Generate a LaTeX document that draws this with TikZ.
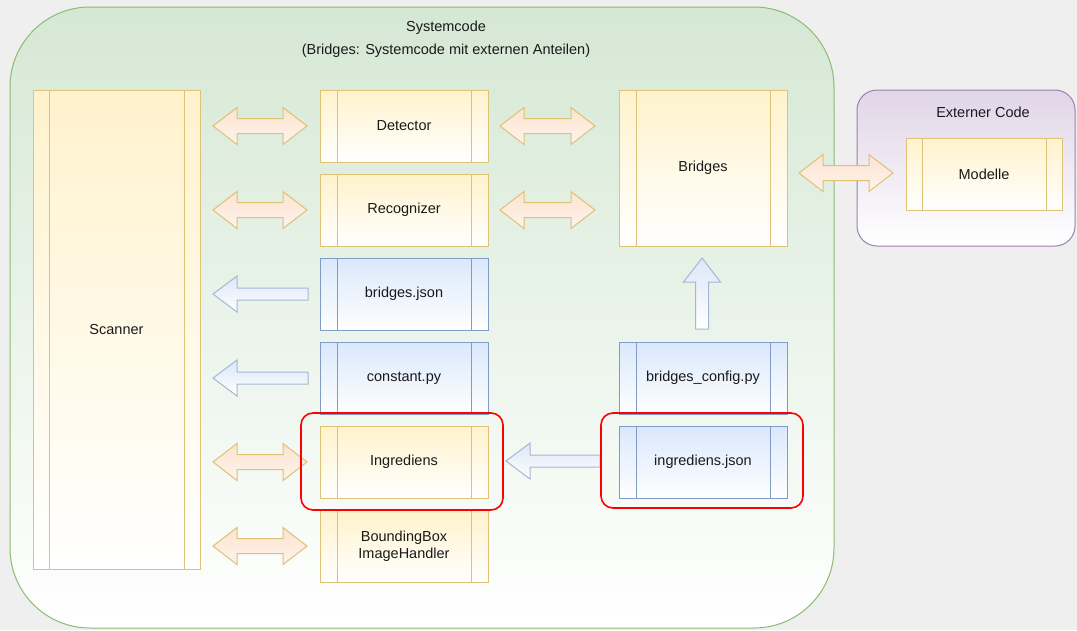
\documentclass[tikz,border=0pt]{standalone}
\usepackage{fontspec}
\setmainfont{Liberation Sans}
\definecolor{bgc}{HTML}{EFEFEF}
\definecolor{gfill}{HTML}{D5E8D4}
\definecolor{gstroke}{HTML}{8CBB72}
\definecolor{pfill}{HTML}{E1D5E7}
\definecolor{pstroke}{HTML}{9D80AE}
\definecolor{yfill}{HTML}{FFF2CC}
\definecolor{ystroke}{HTML}{DDC278}
\definecolor{bfill}{HTML}{DAE8FC}
\definecolor{bstroke}{HTML}{7F9CC8}
\definecolor{afill}{HTML}{FCE3D0}
\definecolor{astroke}{HTML}{DEC274}
\definecolor{bafill}{HTML}{DCE7F7}
\definecolor{bastroke}{HTML}{A3B8D6}
\definecolor{redc}{HTML}{FF0000}
\definecolor{txt}{HTML}{1A1A1A}
\tikzset{
  ybox/.style={draw=ystroke, top color=yfill, bottom color=white, line width=1pt,
    inner sep=0pt, outer sep=0pt, align=center, text=txt},
  bbox/.style={draw=bstroke, top color=bfill, bottom color=white, line width=1pt,
    inner sep=0pt, outer sep=0pt, align=center, text=txt},
  yline/.style={draw=ystroke, line width=1pt},
  bline/.style={draw=bstroke, line width=1pt},
  darr/.style={draw=astroke, line width=1pt, top color=afill, bottom color=afill!40!white, line join=miter},
  barr/.style={draw=bastroke, line width=1pt, top color=bafill, bottom color=white, line join=miter},
  redbox/.style={draw=redc, line width=1.6pt, rounded corners=12pt},
  pics/dblarrow/.style={code={
    \path[darr] ({-#1/2},0) -- ({-#1/2+24},-18.5) -- ({-#1/2+24},-7.5) -- ({#1/2-24},-7.5)
      -- ({#1/2-24},-18.5) -- ({#1/2},0) -- ({#1/2-24},18.5) -- ({#1/2-24},7.5)
      -- ({-#1/2+24},7.5) -- ({-#1/2+24},18.5) -- cycle;}},
  pics/leftarrow/.style={code={
    \path[barr] ({-#1/2},0) -- ({-#1/2+24},-18) -- ({-#1/2+24},-6) -- ({#1/2},-6)
      -- ({#1/2},6) -- ({-#1/2+24},6) -- ({-#1/2+24},18) -- cycle;}},
  pics/uparrow/.style={code={
    \path[barr] (0,{-#1/2}) -- (18.5,{-#1/2+24}) -- (6.5,{-#1/2+24}) -- (6.5,{#1/2})
      -- (-6.5,{#1/2}) -- (-6.5,{-#1/2+24}) -- (-18.5,{-#1/2+24}) -- cycle;}}
}
% #1 name, #2 kind (y or b), #3 cx, #4 cy, #5 width, #6 height, #7 inner offset, #8 text
\newcommand\procnode[8]{%
  \node[#2box, minimum width=#5pt, minimum height=#6pt] (#1) at (#3,#4) {#8};
  \draw[#2line] ([xshift=#7pt]#1.north west) -- ([xshift=#7pt]#1.south west)
    ([xshift=-#7pt]#1.north east) -- ([xshift=-#7pt]#1.south east);}
\begin{document}
\begin{tikzpicture}[x=1pt,y=-1pt,font=\fontsize{14.5}{17}\selectfont]
\useasboundingbox (0,0) rectangle (1077,630);
\fill[bgc] (0,0) rectangle (1077,630);
% Systemcode container
\path[draw=gstroke, line width=1pt, top color=gfill, bottom color=white, rounded corners=80pt]
  (10,7) rectangle (834,628);
\node[text=txt] (systitle) at (446,28) {Systemcode};
\node[text=txt] (syssub) at (446,51) {(Bridges: Systemcode mit externen Anteilen)};
% Externer Code container
\path[draw=pstroke, line width=1pt, top color=pfill, bottom color=white, rounded corners=20pt]
  (857,90) rectangle (1075,246);
\node[text=txt] (exttitle) at (983,112) {Externer Code};
% boxes
\procnode{scanner}{y}{116.5}{329.5}{167}{479}{16}{Scanner}
\procnode{detector}{y}{404}{126}{168}{72}{17}{Detector}
\procnode{recognizer}{y}{404}{210}{168}{72}{17}{Recognizer}
\procnode{bjson}{b}{404}{294}{168}{72}{17}{bridges.json}
\procnode{constant}{b}{404}{378}{168}{72}{17}{constant.py}
\procnode{ingred}{y}{404}{462}{168}{72}{17}{Ingrediens}
\procnode{bbox}{y}{404}{546}{168}{72}{17}{BoundingBox\\ImageHandler}
\procnode{bridges}{y}{703}{168}{168}{156}{17}{Bridges}
\procnode{bconfig}{b}{703}{378}{168}{72}{17}{bridges\_config.py}
\procnode{ijson}{b}{703}{462}{168}{72}{17}{ingrediens.json}
\procnode{modelle}{y}{984}{174}{156}{72}{16}{Modelle}
% arrows
\pic at (260,126) {dblarrow=94};
\pic at (260,210) {dblarrow=94};
\pic at (260,462) {dblarrow=94};
\pic at (260,546) {dblarrow=94};
\pic at (547.5,126) {dblarrow=95};
\pic at (547.5,210) {dblarrow=95};
\pic at (846,173) {dblarrow=94};
\pic at (260.5,294) {leftarrow=95};
\pic at (260.5,378) {leftarrow=95};
\pic at (553,461) {leftarrow=94};
\pic at (702,293.5) {uparrow=71};
% highlight frames
\draw[redbox] (301,413) rectangle (503,510);
\draw[redbox] (601,413) rectangle (803,508);
\end{tikzpicture}
\end{document}
